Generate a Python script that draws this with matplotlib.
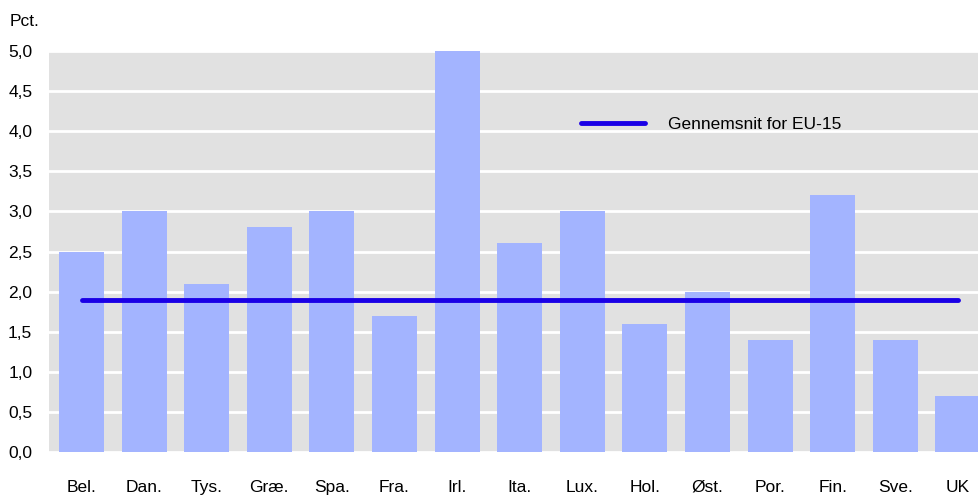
import numpy as np
import matplotlib.pyplot as plt

plt.rcParams['font.family'] = ['Liberation Sans', 'DejaVu Sans']

lande = ["Bel.", "Dan.", "Tys.", "Græ.", "Spa.", "Fra.", "Irl.", "Ita.", "Lux.",
         "Hol.", "Øst.", "Por.", "Fin.", "Sve.", "UK"]
vaerdier = [2.5, 3.0, 2.1, 2.8, 3.0, 1.7, 5.0, 2.6, 3.0, 1.6, 2.0, 1.4, 3.2, 1.4, 0.7]
gennemsnit = 1.9
yticks = np.arange(0, 5.01, 0.5)

fig = plt.figure(figsize=(9.79, 4.95), dpi=100)
ax = fig.add_axes([49 / 979, 43 / 495, 930 / 979, 401 / 495])
ax.set_facecolor("#e1e1e1")

x = np.arange(len(lande))
ax.bar(x, vaerdier, width=0.72, color="#a3b4ff", zorder=3)
ax.plot([x[0], x[-1]], [gennemsnit, gennemsnit], color="#1a00e6", lw=3.5,
        solid_capstyle="round", zorder=4, label="Gennemsnit for EU-15")

# axis runs past the right edge of the picture (UK bar is cut)
ax.set_xlim(-0.52, -0.52 + 930 / 62.6)
ax.set_ylim(0, 5.0)
ax.set_yticks(yticks)
ax.set_yticklabels([f"{v:.1f}".replace(".", ",") for v in yticks])
ax.set_xticks(x)
ax.set_xticklabels(lande)
ax.grid(axis="y", color="white", lw=2, zorder=1)
ax.tick_params(axis="both", length=0, labelsize=12.5)
ax.tick_params(axis="x", pad=20)
ax.tick_params(axis="y", pad=12)
for s in ax.spines.values():
    s.set_visible(False)

ax.legend(loc="upper left", bbox_to_anchor=(0.555, 0.875), frameon=False,
          fontsize=12.5, handlelength=3.7, handletextpad=1.3)

fig.text(10 / 979, 1 - 22 / 495, "Pct.", fontsize=12.5, va="center", ha="left")

fig.savefig("out.png", dpi=100)
